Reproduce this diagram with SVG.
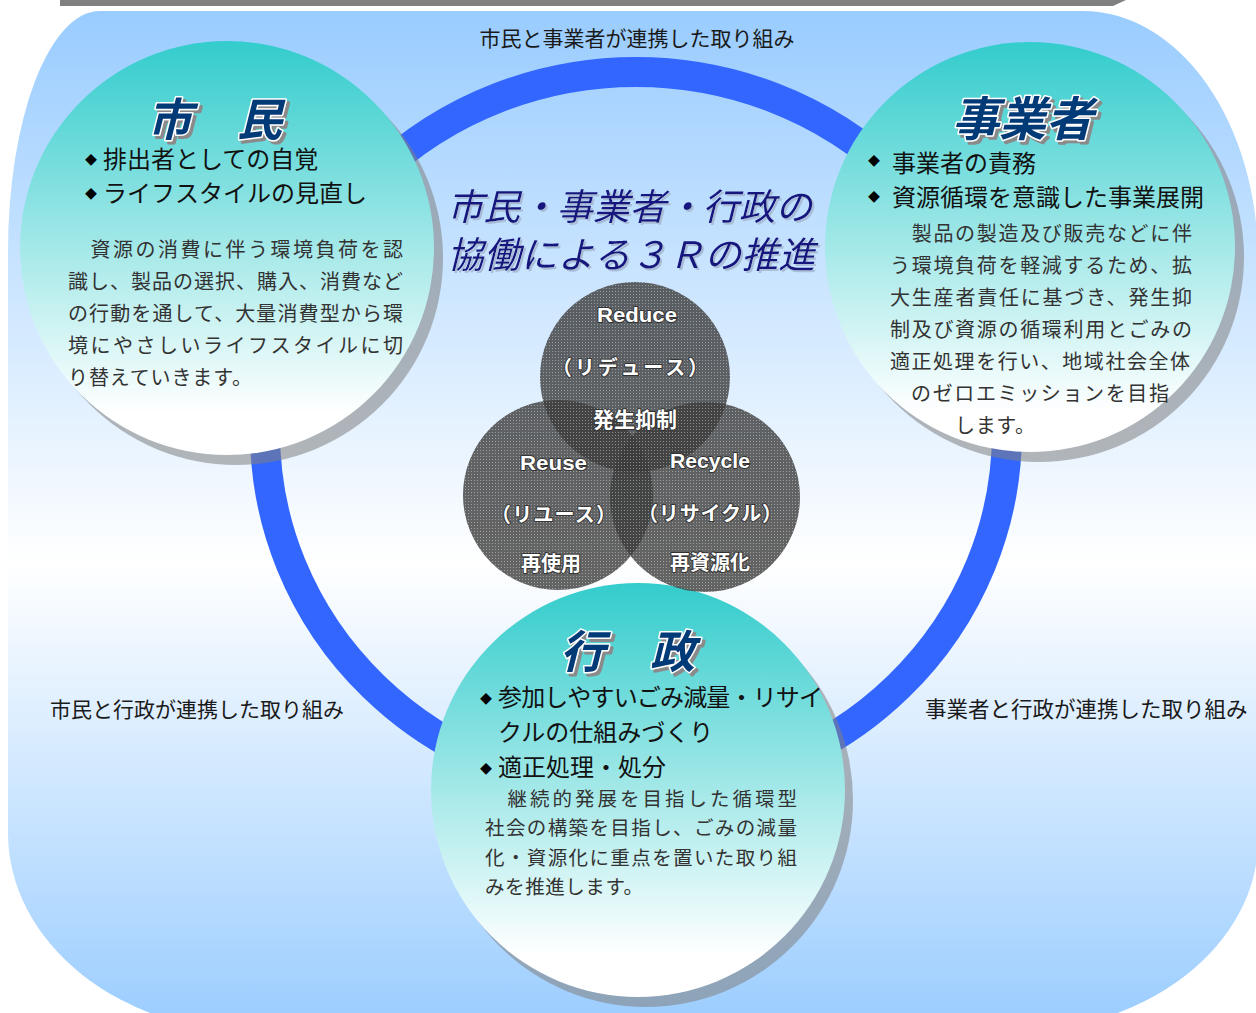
<svg xmlns="http://www.w3.org/2000/svg" width="1256" height="1013" viewBox="0 0 1256 1013">
<defs>
<linearGradient id="bg" gradientUnits="userSpaceOnUse" x1="0" y1="11" x2="0" y2="1033">
<stop offset="0" stop-color="#99CCFF"/>
<stop offset="0.54" stop-color="#FFFFFF"/>
<stop offset="1" stop-color="#99CCFF"/>
</linearGradient>
<linearGradient id="teal" x1="0" y1="0" x2="0" y2="1">
<stop offset="0" stop-color="#33CCCC"/>
<stop offset="0.9" stop-color="#FFFFFF"/>
</linearGradient>
<pattern id="dot" width="3" height="3" patternUnits="userSpaceOnUse">
<rect width="3" height="3" fill="#3c3c3c"/>
<rect width="1" height="1" fill="#8a8a8a"/>
</pattern>
<filter id="tsh" x="-10%" y="-20%" width="130%" height="150%">
<feDropShadow dx="3" dy="3" stdDeviation="0" flood-color="#8a8a8a" flood-opacity="1"/>
</filter>
<filter id="csh" x="-10%" y="-20%" width="130%" height="150%">
<feDropShadow dx="2" dy="2" stdDeviation="0.3" flood-color="#a9bcd8" flood-opacity="1"/>
</filter>
</defs>
<style>
.jp{font-family:"Noto Sans CJK JP","Noto Sans CJK SC",sans-serif}
.lbl{font-size:21px;fill:#1a1a1a}
.ttl{font-size:45px;font-weight:bold;font-style:italic;fill:#063a78;stroke:#fff;stroke-width:3;paint-order:stroke;stroke-linejoin:round;filter:url(#tsh)}
.bul{font-size:24px;fill:#111}
.dia{font-size:12px;fill:#000}
.body{font-size:20px;fill:#333}
.shadow{fill:#7f7f7f;opacity:.55}
.circ{fill:url(#teal)}
.venn{fill:url(#dot);opacity:.8}
.vt{fill:#fff;stroke:#333;stroke-width:2;paint-order:stroke;stroke-linejoin:round;font-weight:bold}
.en{font-family:"Liberation Sans",Arial,sans-serif;font-size:21px}
.ctitle{font-size:36.5px;font-style:italic;fill:#14147e;filter:url(#csh)}
</style>

<g id="background">
<path d="M8,251 A92,240 0 0 1 100,11 L1083,11 A175,249 0 0 1 1258,260 L1258,840 A252,193 0 0 1 1006,1033 L260,1033 A252,200 0 0 1 8,833 Z" fill="url(#bg)"/>
<polygon points="60,0 1126,0 1113,6 60,6" fill="#808080"/>
</g>

<g id="connectors">
<ellipse cx="636" cy="432" rx="371" ry="360" fill="none" stroke="#3366FF" stroke-width="30"/>
</g>

<g id="labels" class="jp lbl">
<text x="637" y="46" text-anchor="middle">市民と事業者が連携した取り組み</text>
<text x="50" y="717">市民と行政が連携した取り組み</text>
<text x="925" y="717" style="font-size:21.5px">事業者と行政が連携した取り組み</text>
</g>

<g id="shimin">
<circle class="shadow" cx="236" cy="258" r="207"/>
<circle class="circ" cx="227" cy="248" r="207"/>
<text class="jp ttl" x="147" y="136">市　民</text>
<text class="jp dia" x="85" y="164.5">◆</text>
<text class="jp bul" x="103" y="168">排出者としての自覚</text>
<text class="jp dia" x="85" y="198.5">◆</text>
<text class="jp bul" x="103" y="202">ライフスタイルの見直し</text>
<g class="jp body">
<text x="68" y="257" textLength="335" lengthAdjust="spacing">　資源の消費に伴う環境負荷を認</text>
<text x="68" y="289" textLength="335" lengthAdjust="spacing">識し、製品の選択、購入、消費など</text>
<text x="68" y="321" textLength="335" lengthAdjust="spacing">の行動を通して、大量消費型から環</text>
<text x="68" y="353" textLength="335" lengthAdjust="spacing">境にやさしいライフスタイルに切</text>
<text x="68" y="385" textLength="184" lengthAdjust="spacing">り替えていきます。</text>
</g>
</g>

<g id="jigyousha">
<circle class="shadow" cx="1039" cy="257" r="205"/>
<circle class="circ" cx="1030" cy="247" r="205"/>
<text class="jp ttl" x="952" y="136" style="font-size:47px">事業者</text>
<text class="jp dia" x="868" y="165.5">◆</text>
<text class="jp bul" x="892" y="172">事業者の責務</text>
<text class="jp dia" x="868" y="201.5">◆</text>
<text class="jp bul" x="892" y="206">資源循環を意識した事業展開</text>
<g class="jp body">
<text x="890" y="241" textLength="302" lengthAdjust="spacing">　製品の製造及び販売などに伴</text>
<text x="890" y="273" textLength="302" lengthAdjust="spacing">う環境負荷を軽減するため、拡</text>
<text x="890" y="305" textLength="302" lengthAdjust="spacing">大生産者責任に基づき、発生抑</text>
<text x="890" y="337" textLength="302" lengthAdjust="spacing">制及び資源の循環利用とごみの</text>
<text x="890" y="369" textLength="300" lengthAdjust="spacing">適正処理を行い、地域社会全体</text>
<text x="911" y="401" textLength="258" lengthAdjust="spacing">のゼロエミッションを目指</text>
<text x="955" y="433" textLength="80" lengthAdjust="spacing">します。</text>
</g>
</g>

<g id="gyousei">
<circle class="shadow" cx="646" cy="800" r="207"/>
<circle class="circ" cx="638" cy="790" r="207"/>
<text class="jp ttl" x="560" y="668">行　政</text>
<text class="jp dia" x="480" y="703.5">◆</text>
<text class="jp bul" x="498" y="706" textLength="325" lengthAdjust="spacing">参加しやすいごみ減量・リサイ</text>
<text class="jp bul" x="498" y="741">クルの仕組みづくり</text>
<text class="jp dia" x="480" y="773.5">◆</text>
<text class="jp bul" x="498" y="776">適正処理・処分</text>
<g class="jp body" style="font-size:19.5px">
<text x="485" y="806" textLength="312" lengthAdjust="spacing">　継続的発展を目指した循環型</text>
<text x="485" y="835" textLength="312" lengthAdjust="spacing">社会の構築を目指し、ごみの減量</text>
<text x="485" y="865" textLength="312" lengthAdjust="spacing">化・資源化に重点を置いた取り組</text>
<text x="485" y="894" textLength="158" lengthAdjust="spacing">みを推進します。</text>
</g>
</g>

<g id="center-title" class="jp">
<text class="ctitle" x="447" y="220">市民・事業者・行政の</text>
<text class="ctitle" x="447" y="268" textLength="368" lengthAdjust="spacing">協働による３Ｒの推進</text>
</g>

<g id="reduce">
<circle class="venn" cx="635" cy="377" r="95"/>
</g>
<g id="reuse">
<circle class="venn" cx="558" cy="495" r="95"/>
</g>
<g id="recycle">
<circle class="venn" cx="705" cy="497" r="95"/>
</g>
<g id="venn-text">
<text class="vt en" x="597" y="322" textLength="80" lengthAdjust="spacingAndGlyphs">Reduce</text>
<text class="vt jp" x="552" y="375" style="font-size:20px" textLength="156" lengthAdjust="spacing">（リデュース）</text>
<text class="vt jp" x="593" y="427" style="font-size:21px">発生抑制</text>
<text class="vt en" x="520" y="470" textLength="67" lengthAdjust="spacingAndGlyphs">Reuse</text>
<text class="vt jp" x="491" y="522" style="font-size:20px" textLength="125" lengthAdjust="spacing">（リユース）</text>
<text class="vt jp" x="521" y="571" style="font-size:20px">再使用</text>
<text class="vt en" x="670" y="468" textLength="80" lengthAdjust="spacingAndGlyphs">Recycle</text>
<text class="vt jp" x="638" y="521" style="font-size:20px" textLength="144" lengthAdjust="spacing">（リサイクル）</text>
<text class="vt jp" x="670" y="570" style="font-size:20px">再資源化</text>
</g>
</svg>
